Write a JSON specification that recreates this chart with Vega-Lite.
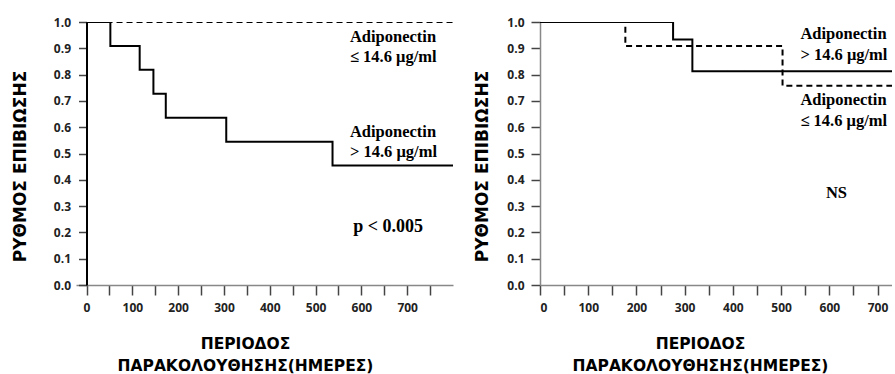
{
  "$schema": "https://vega.github.io/schema/vega-lite/v6.json",
  "background": "white",
  "autosize": {"type": "pad"},
  "padding": {"left": 11, "top": 16, "right": 0, "bottom": 0},
  "spacing": 20,
  "config": {
    "view": {"stroke": null},
    "axis": {
      "grid": false,
      "labelFont": "Open Sans",
      "labelFontWeight": "bold",
      "labelFontSize": 12,
      "labelColor": "#222",
      "labelOverlap": false,
      "titleFont": "DejaVu Sans",
      "titleFontWeight": "bold",
      "titleColor": "black",
      "tickColor": "#444",
      "tickWidth": 1.5
    }
  },
  "hconcat": [
    {
      "width": 377,
      "height": 263,
      "encoding": {
        "x": {"field": "days", "type": "quantitative",
          "scale": {"domain": [-23, 800], "nice": false, "zero": false},
          "axis": {
            "domainColor": "#888", "domainWidth": 1.5,
            "values": [0, 50, 100, 150, 200, 250, 300, 350, 400, 450, 500, 550, 600, 650, 700, 750],
            "labelExpr": "datum.value % 100 === 0 ? datum.label : ''",
            "tickSize": 10, "labelPadding": 7,
            "title": ["ΠΕΡΙΟΔΟΣ", "ΠΑΡΑΚΟΛΟΥΘΗΣΗΣ(ΗΜΕΡΕΣ)"],
            "titleFontSize": 15.5, "titleLineHeight": 22,
            "titleX": 169, "titleY": 63, "titleBaseline": "alphabetic", "titleAlign": "center"
          }},
        "y": {"field": "survival", "type": "quantitative",
          "scale": {"domain": [0, 1], "nice": false},
          "axis": {
            "offset": -10.5,
            "domainColor": "black", "domainWidth": 2,
            "values": [0, 0.1, 0.2, 0.3, 0.4, 0.5, 0.6, 0.7, 0.8, 0.9, 1.0],
            "format": ".1f", "tickSize": 8, "labelPadding": 8,
            "title": "ΡΥΘΜΟΣ ΕΠΙΒΙΩΣΗΣ", "titleFontSize": 17,
            "titlePadding": 24, "titleY": 144
          }}
      },
      "layer": [
        {
          "data": {"values": [
            {"days": 0, "survival": 1.0, "group": "high"},
            {"days": 52, "survival": 0.909, "group": "high"},
            {"days": 116, "survival": 0.818, "group": "high"},
            {"days": 146, "survival": 0.727, "group": "high"},
            {"days": 173, "survival": 0.636, "group": "high"},
            {"days": 305, "survival": 0.545, "group": "high"},
            {"days": 537, "survival": 0.4545, "group": "high"},
            {"days": 800, "survival": 0.4545, "group": "high"},
            {"days": 0, "survival": 1.0, "group": "low"},
            {"days": 800, "survival": 1.0, "group": "low"}
          ]},
          "mark": {"type": "line", "interpolate": "step-after", "color": "black", "strokeWidth": 2, "clip": true},
          "encoding": {
            "strokeDash": {"field": "group", "type": "nominal",
              "scale": {"domain": ["high", "low"], "range": [[1, 0], [6, 4]]},
              "legend": null}
          }
        },
        {
          "data": {"values": [
            {"days": 575, "survival": 0.924, "label": "Adiponectin"},
            {"days": 575, "survival": 0.847, "label": "≤  14.6 μg/ml"},
            {"days": 575, "survival": 0.561, "label": "Adiponectin"},
            {"days": 575, "survival": 0.485, "label": "> 14.6 μg/ml"},
            {"days": 582, "survival": 0.202, "label": "p < 0.005"}
          ]},
          "mark": {"type": "text", "font": "Liberation Serif", "fontWeight": "bold", "align": "left", "baseline": "alphabetic", "color": "black"},
          "encoding": {
            "text": {"field": "label"},
            "size": {"condition": {"test": "datum.label === 'p < 0.005'", "value": 18}, "value": 16.5}
          }
        }
      ]
    },
    {
      "width": 352,
      "height": 263,
      "encoding": {
        "x": {"field": "days", "type": "quantitative",
          "scale": {"domain": [0, 730], "nice": false, "zero": false},
          "axis": {
            "domainColor": "#888", "domainWidth": 1.5,
            "values": [0, 50, 100, 150, 200, 250, 300, 350, 400, 450, 500, 550, 600, 650, 700],
            "labelExpr": "datum.value % 100 === 0 ? datum.label : ''",
            "tickSize": 10, "labelPadding": 7,
            "title": ["ΠΕΡΙΟΔΟΣ", "ΠΑΡΑΚΟΛΟΥΘΗΣΗΣ(ΗΜΕΡΕΣ)"],
            "titleFontSize": 15.5, "titleLineHeight": 22,
            "titleX": 160, "titleY": 63, "titleBaseline": "alphabetic", "titleAlign": "center"
          }},
        "y": {"field": "survival", "type": "quantitative",
          "scale": {"domain": [0, 1], "nice": false},
          "axis": {
            "domainColor": "#888", "domainWidth": 1.5,
            "values": [0, 0.1, 0.2, 0.3, 0.4, 0.5, 0.6, 0.7, 0.8, 0.9, 1.0],
            "format": ".1f", "tickSize": 9, "labelPadding": 7,
            "title": "ΡΥΘΜΟΣ ΕΠΙΒΙΩΣΗΣ", "titleFontSize": 17,
            "titlePadding": 15, "titleY": 144
          }}
      },
      "layer": [
        {
          "data": {"values": [
            {"days": 0, "survival": 1.0, "group": "high"},
            {"days": 276, "survival": 0.933, "group": "high"},
            {"days": 316, "survival": 0.813, "group": "high"},
            {"days": 800, "survival": 0.813, "group": "high"},
            {"days": 0, "survival": 1.0, "group": "low"},
            {"days": 177, "survival": 0.909, "group": "low"},
            {"days": 503, "survival": 0.758, "group": "low"},
            {"days": 800, "survival": 0.758, "group": "low"}
          ]},
          "mark": {"type": "line", "interpolate": "step-after", "color": "black", "strokeWidth": 2, "clip": true},
          "encoding": {
            "strokeDash": {"field": "group", "type": "nominal",
              "scale": {"domain": ["high", "low"], "range": [[1, 0], [6, 4]]},
              "legend": null}
          }
        },
        {
          "data": {"values": [
            {"days": 540, "survival": 0.936, "label": "Adiponectin"},
            {"days": 540, "survival": 0.856, "label": "> 14.6 μg/ml"},
            {"days": 540, "survival": 0.686, "label": "Adiponectin"},
            {"days": 540, "survival": 0.606, "label": "≤  14.6 μg/ml"},
            {"days": 593, "survival": 0.33, "label": "NS"}
          ]},
          "mark": {"type": "text", "font": "Liberation Serif", "fontWeight": "bold", "fontSize": 16.5, "align": "left", "baseline": "alphabetic", "color": "black", "clip": true},
          "encoding": {
            "text": {"field": "label"}
          }
        }
      ]
    }
  ]
}
